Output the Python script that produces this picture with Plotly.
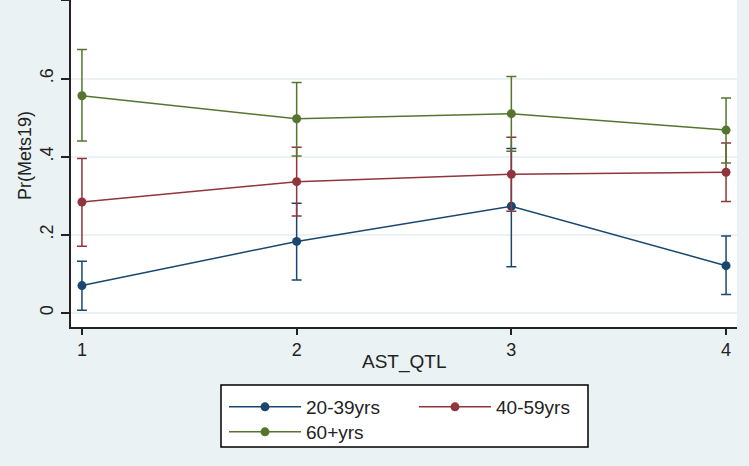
import plotly.graph_objects as go

# AST quartile on x, predicted probability with 95% CI per age group
quartiles = [1, 2, 3, 4]

groups = ["20-39yrs", "40-59yrs", "60+yrs"]
colors = ["#1a476f", "#90353b", "#55752f"]

pr_2039 = [0.070, 0.183, 0.273, 0.121]
lo_2039 = [0.007, 0.084, 0.118, 0.047]
hi_2039 = [0.132, 0.281, 0.421, 0.197]

pr_4059 = [0.284, 0.336, 0.355, 0.360]
lo_4059 = [0.171, 0.248, 0.260, 0.285]
hi_4059 = [0.395, 0.424, 0.450, 0.435]

pr_60 = [0.556, 0.497, 0.510, 0.468]
lo_60 = [0.440, 0.402, 0.414, 0.384]
hi_60 = [0.674, 0.590, 0.605, 0.550]

series = [
    (pr_2039, lo_2039, hi_2039),
    (pr_4059, lo_4059, hi_4059),
    (pr_60, lo_60, hi_60),
]
legend_ids = ["legend", "legend", "legend2"]

BG = "#eaf2f3"
INK = "#222"
FONT = "Liberation Sans, Arial, sans-serif"

# plot area in pixels (l=71, r=737, t=0, b=327)
L, R, T, B = 71, 737, 0, 327


def px_x(p):
    return (p - L) / (R - L)


def px_y(p):
    return (B - p) / (B - T)


fig = go.Figure()
for name, col, (pr, lo, hi), lg in zip(groups, colors, series, legend_ids):
    fig.add_trace(go.Scatter(
        x=quartiles, y=pr, name=name, mode="lines+markers",
        line=dict(color=col, width=1.5),
        marker=dict(color=col, size=9),
        error_y=dict(
            type="data", symmetric=False,
            array=[h - p for h, p in zip(hi, pr)],
            arrayminus=[p - l for p, l in zip(pr, lo)],
            color=col, thickness=1.5, width=5,
        ),
        legend=lg,
    ))

# legend frame (two legends share one box, 2 columns like Stata)
fig.add_shape(
    type="rect", xref="paper", yref="paper",
    x0=px_x(221), x1=px_x(588), y0=px_y(385), y1=px_y(447),
    line=dict(color="black", width=1.5), fillcolor="white", layer="above",
)

# axis titles
fig.add_annotation(
    text="AST_QTL", xref="paper", yref="paper", x=0.5, y=px_y(362),
    xanchor="center", yanchor="middle", showarrow=False,
    font=dict(family=FONT, size=19, color=INK),
)
fig.add_annotation(
    text="Pr(Mets19)", xref="paper", yref="paper", x=px_x(25), y=px_y(156),
    xanchor="center", yanchor="middle", showarrow=False, textangle=-90,
    font=dict(family=FONT, size=18, color=INK),
)

legend_common = dict(
    orientation="h", xanchor="left", yanchor="top",
    bgcolor="rgba(0,0,0,0)", borderwidth=0,
    font=dict(family=FONT, size=19, color=INK),
    itemwidth=72, entrywidth=103, tracegroupgap=0,
)

fig.update_layout(
    width=749, height=466,
    margin=dict(l=L, r=749 - R, t=T, b=466 - B, pad=0),
    paper_bgcolor=BG, plot_bgcolor="white",
    font=dict(family=FONT, size=18, color=INK),
    showlegend=True,
    legend=dict(x=px_x(224), y=px_y(388), **legend_common),
    legend2=dict(x=px_x(224), y=px_y(413), **legend_common),
    xaxis=dict(
        range=[0.949, 4.051], tickvals=quartiles,
        ticks="outside", ticklen=6, tickwidth=1.5, tickcolor=INK,
        showline=True, linecolor=INK, linewidth=1.5,
        showgrid=False, zeroline=False, automargin=False,
    ),
    yaxis=dict(
        range=[-0.036, 0.801], tickvals=[0, 0.2, 0.4, 0.6, 0.8],
        ticktext=["0", ".2", ".4", ".6", ".8"], tickangle=-90,
        ticks="outside", ticklen=8, tickwidth=1.5, tickcolor=INK,
        ticklabelstandoff=1,
        showline=True, linecolor=INK, linewidth=1.5,
        showgrid=True, gridcolor=BG, gridwidth=1.5, zeroline=False,
        automargin=False,
    ),
)

fig.write_html(
    "out.html",
    config={"displayModeBar": False},
    post_script="document.body.style.margin='0';",
)
